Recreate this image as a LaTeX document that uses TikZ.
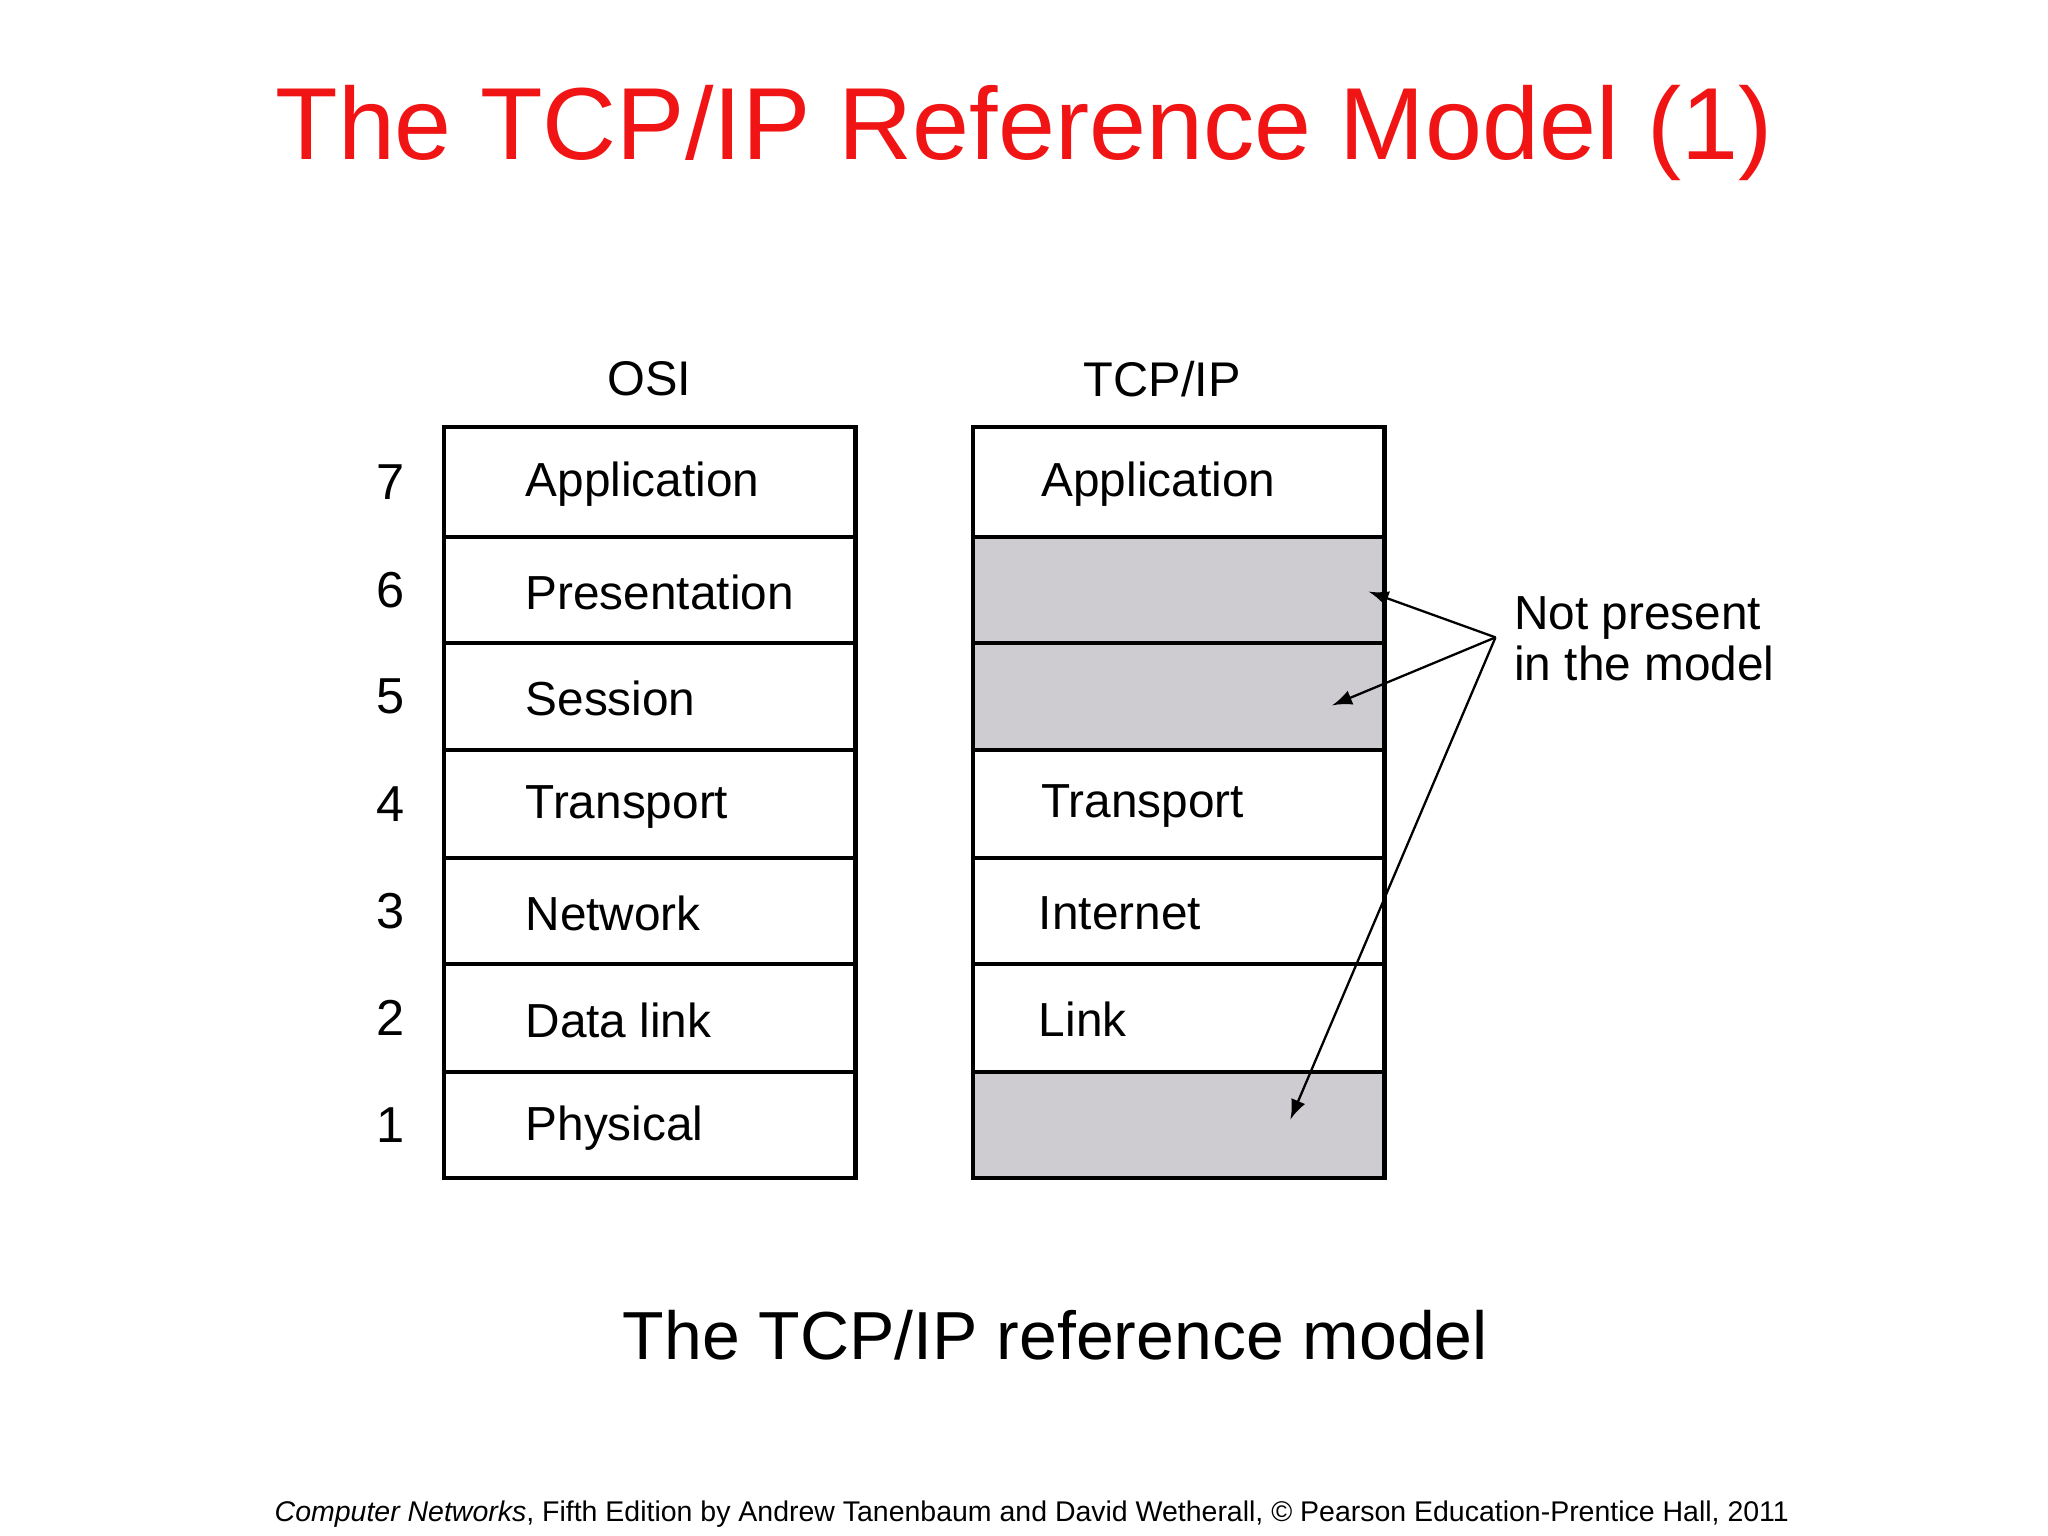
\documentclass[tikz,border=0pt]{standalone}
\usepackage{fontspec}
\setmainfont{Liberation Sans}
\definecolor{tred}{RGB}{240,20,20}
\definecolor{lgray}{RGB}{206,204,208}
\begin{document}
\begin{tikzpicture}[x=0.01cm,y=-0.01cm,
  lay/.style={anchor=west,font=\fontsize{10.4}{12}\selectfont},
  num/.style={font=\fontsize{11}{13}\selectfont},
  ann/.style={-latex,line width=0.5pt}]
\useasboundingbox (0,0) rectangle (1568,1176);
\node[text=tred,font=\fontsize{22.3}{26}\selectfont] (title) at (784,102) {The TCP/IP Reference Model (1)};
\node[font=\fontsize{10.6}{13}\selectfont] (osi) at (497,290) {OSI};
\node[font=\fontsize{10.6}{13}\selectfont] (tcp) at (890,290) {TCP/IP};
% OSI rows
\foreach \i/\t/\b/\n/\lab in {1/327/411/7/Application,2/411/492/6/Presentation,3/492/574/5/Session,4/574/657/4/Transport,5/657/738/3/Network,6/738/821/2/Data link,7/821/902/1/Physical}{
  \draw[line width=0.9pt] (340,\t) rectangle (655,\b);
  \node[lay] (o\i) at (390,{(\t+\b)/2+2}) {\lab};
  \node[num] (n\i) at (299,{(\t+\b)/2}) {\n};
}
% TCP rows
\fill[lgray] (745,411) rectangle (1060,574);
\fill[lgray] (745,821) rectangle (1060,902);
\foreach \t/\b in {327/411,411/492,492/574,574/657,657/738,738/821,821/902}{
  \draw[line width=0.9pt] (745,\t) rectangle (1060,\b);
}
\node[lay] (t1) at (785,371) {Application};
\node[lay] (t4) at (785,617) {Transport};
\node[lay] (t5) at (783,699) {Internet};
\node[lay] (t6) at (783,780) {Link};
\node[lay,align=left] (np) at (1147,489) {Not present\\[-1pt]in the model};
\coordinate (src) at (1145,488);
\coordinate (a1) at (1048,453);
\coordinate (a2) at (1020,540);
\coordinate (a3) at (988,857);
\draw[ann] (src) -- (a1);
\draw[ann] (src) -- (a2);
\draw[ann] (src) -- (a3);
\node[font=\fontsize{14.8}{17}\selectfont] (cap) at (808,1022) {The TCP/IP reference model};
\node[font=\fontsize{6.2}{8}\selectfont] (foot) at (790,1159) {\textit{Computer Networks}, Fifth Edition by Andrew Tanenbaum and David Wetherall, © Pearson Education-Prentice Hall, 2011};
\end{tikzpicture}
\end{document}
